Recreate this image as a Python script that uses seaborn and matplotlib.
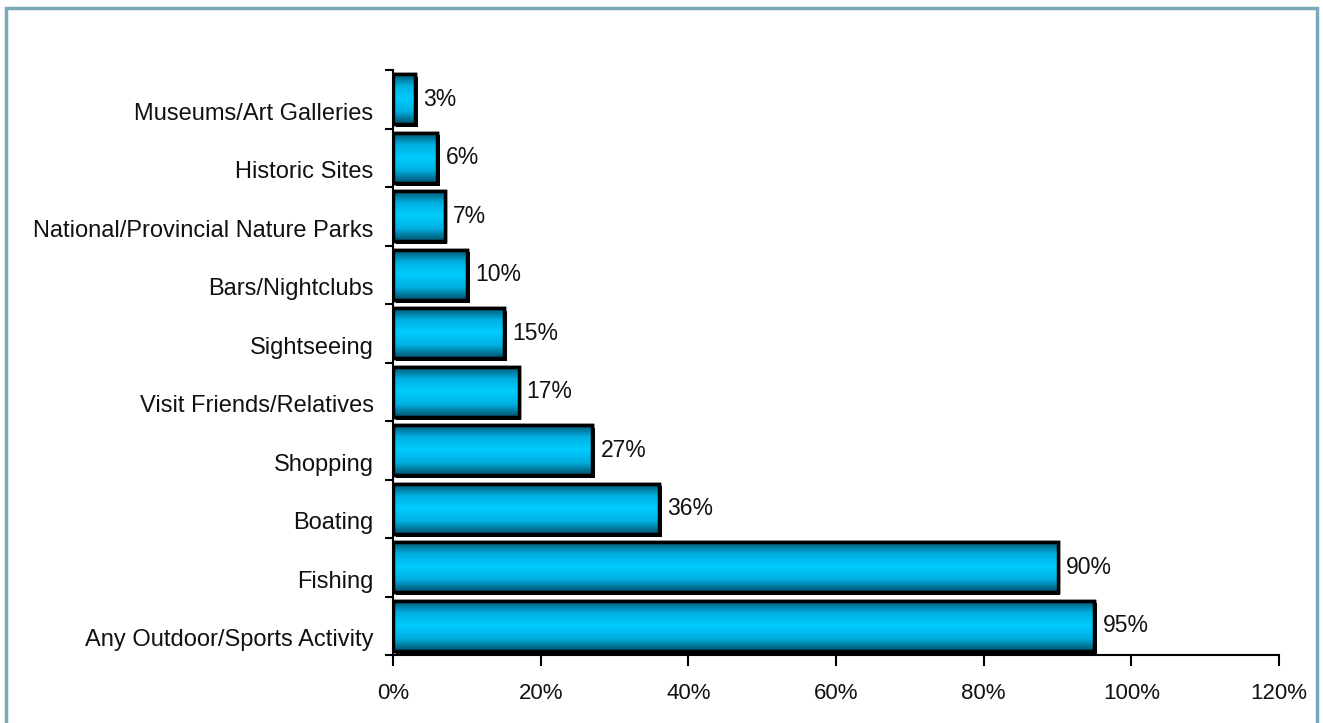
import numpy as np
import pandas as pd
import matplotlib
matplotlib.use('Agg')
import matplotlib.pyplot as plt
import matplotlib.patheffects as pe
import matplotlib.transforms as mtransforms
from matplotlib.patches import Rectangle
from matplotlib.colors import LinearSegmentedColormap
from matplotlib.ticker import FuncFormatter
import seaborn as sns

activities = ['Museums/Art Galleries', 'Historic Sites', 'National/Provincial Nature Parks',
              'Bars/Nightclubs', 'Sightseeing', 'Visit Friends/Relatives', 'Shopping',
              'Boating', 'Fishing', 'Any Outdoor/Sports Activity']
percent = [3, 6, 7, 10, 15, 17, 27, 36, 90, 95]
x_ticks = [0, 20, 40, 60, 80, 100, 120]

df = pd.DataFrame({'activity': activities, 'percent': percent})

sns.set_style('white')
plt.rcParams['font.family'] = ['Liberation Sans', 'DejaVu Sans']

fig = plt.figure(figsize=(13.23, 7.23), dpi=100)
ax = fig.add_axes([393 / 1323, 1 - 655 / 723, 886 / 1323, 585 / 723])

sns.barplot(data=df, x='percent', y='activity', orient='h', width=0.86,
            color='#00c8f8', edgecolor='black', linewidth=2.5, ax=ax)

# vertical gradient: dark teal at top/bottom, bright cyan in the middle
grad_cmap = LinearSegmentedColormap.from_list(
    'cyan_grad', ['#004f6a', '#00b0e0', '#00ccff', '#00b0e0', '#004f6a'])
grad = np.linspace(0, 1, 256).reshape(-1, 1)

for bar in list(ax.patches):
    x0, y0 = bar.get_x(), bar.get_y()
    w, h = bar.get_width(), bar.get_height()
    bar.set_path_effects([pe.SimplePatchShadow(offset=(2, -2), shadow_rgbFace='black', alpha=1),
                          pe.Normal()])
    im = ax.imshow(grad, cmap=grad_cmap, aspect='auto', extent=[x0, x0 + w, y0 + h, y0],
                   zorder=bar.get_zorder() + 0.1, interpolation='bicubic')
    im.set_clip_path(bar)
    ax.add_patch(Rectangle((x0, y0), w, h, fill=False, edgecolor='black', linewidth=2.5,
                           zorder=bar.get_zorder() + 0.2))
    ax.text(x0 + w + 1.1, y0 + h / 2, f'{w:.0f}%', va='center', ha='left', fontsize=16.5, color='#111111')

ax.set_xlim(0, 120)
ax.set_ylim(len(activities) - 0.5, -0.5)
ax.set_xticks(x_ticks)
ax.xaxis.set_major_formatter(FuncFormatter(lambda v, p: f'{v:.0f}%'))
ax.set_yticks(range(len(activities)))
ax.set_yticks(np.arange(-0.5, len(activities), 1), minor=True)
ax.set_xlabel('')
ax.set_ylabel('')

ax.tick_params(axis='x', which='major', direction='out', length=8, width=1.5, color='black',
               bottom=True, pad=12, labelsize=16, labelcolor='#111111')
ax.tick_params(axis='y', which='major', length=0, pad=14, labelsize=17, labelcolor='#111111')
ax.tick_params(axis='y', which='minor', direction='out', length=6, width=1.5, color='black', left=True)

# category labels sit a little below the bar centres in the original
shift = mtransforms.ScaledTranslation(0, -12 / 100, fig.dpi_scale_trans)
for lab in ax.get_yticklabels():
    lab.set_transform(lab.get_transform() + shift)

for side in ['top', 'right']:
    ax.spines[side].set_visible(False)
for side in ['left', 'bottom']:
    ax.spines[side].set_color('black')
    ax.spines[side].set_linewidth(1.5)

# frame around the whole chart
fig.patches.append(Rectangle((6 / 1323, -0.05), 1311 / 1323, 1.05 - 8 / 723, transform=fig.transFigure,
                             fill=False, edgecolor='#79a8b8', linewidth=2.5))

fig.savefig('out.png', dpi=100)
